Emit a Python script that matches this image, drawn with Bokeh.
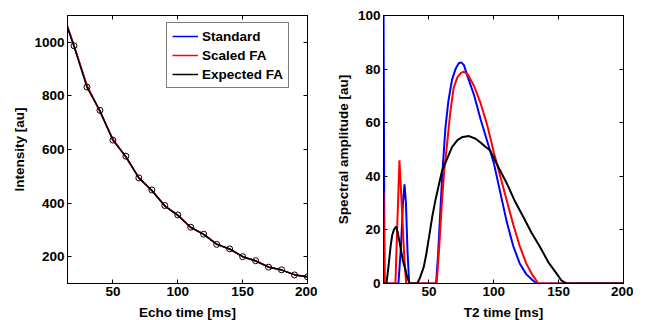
from bokeh.plotting import figure
from bokeh.layouts import row
from bokeh.models import (LinearAxis, FixedTicker, CustomJSTickFormatter,
                          Range1d, Legend, LegendItem)
from bokeh.embed import file_html
from bokeh.resources import INLINE

# ---------------- data: left panel (echo decay) ----------------
echo_measured = [20, 30, 40, 50, 60, 70, 80, 90, 100, 110, 120, 130, 140,
                 150, 160, 170, 180, 190, 200]
intensity_measured = [987, 833, 746, 635, 575, 494, 449, 391, 356, 310, 284,
                      246, 229, 200, 185, 161, 151, 132, 125]

echo_fit = [10, 20, 30, 40, 50, 60, 70, 80, 90, 100, 110, 120, 130, 140,
            150, 160, 170, 180, 190, 200]
fit_standard = [1128, 986, 838, 742, 637, 572, 495, 446, 390, 354, 310, 282,
                247, 229, 200, 184, 161, 150, 133, 125]
fit_scaled = [1130, 990, 840, 740, 640, 571, 493, 447, 388, 355, 309, 283,
              248, 227, 201, 184, 163, 150, 133, 124]
fit_expected = [1125, 985, 832, 745, 634, 574, 494, 448, 390, 355, 309, 284,
                246, 229, 200, 185, 161, 151, 132, 125]

left_xticks = [50, 100, 150, 200]
left_yticks = [200, 400, 600, 800, 1000]

# ---------------- data: right panel (T2 spectra) ----------------
t2_standard = [15, 15.8, 26.5, 28.5, 30, 31.2, 32.3, 33.5, 34.8, 55.5, 57,
               58.8, 60.5, 62.7, 65, 67.8, 70.5, 73, 75, 77, 80, 85, 90, 95,
               100, 105, 110, 115, 120, 125, 130, 133, 200]
amp_standard = [105, 0, 0, 14, 30, 37, 30, 12, 0, 0, 10, 27, 42, 58, 68, 76,
                80, 82.2, 82.5, 81.5, 77, 70, 61, 53, 45, 34, 23, 14, 7.5,
                3.5, 1.2, 0, 0]

t2_scaled = [15, 15.8, 24.2, 25.5, 27.3, 29, 31, 32.5, 56, 58, 60.1, 62, 64,
             66.5, 69.1, 72, 75, 77, 80, 85, 90, 95, 100, 105, 110, 115, 120,
             125, 130, 134.5, 200]
amp_scaled = [34, 0, 0, 20, 46, 30, 10, 0, 0, 14, 31, 43, 52, 64, 73, 77,
              78.7, 79, 78, 73.5, 67, 59, 49, 40, 31, 22, 14, 7.5, 3, 0, 0]

t2_expected = [15, 17.3, 19, 20.5, 21.7, 23, 24.7, 26, 28.1, 30, 32, 33.5,
               35.2, 41, 43, 46, 48, 50, 52.5, 55, 57.5, 60.1, 64, 67.8, 72,
               76, 81, 86, 90, 93.5, 97.3, 104, 110.2, 116, 122.9, 129, 135.8,
               142, 148.6, 152, 156.3, 200]
amp_expected = [0, 0, 7, 14, 18, 20, 21.3, 19, 13.5, 8.5, 4.9, 2, 0, 0, 2,
                6.1, 11, 17, 24.7, 31, 36.5, 42, 46.5, 50.9, 53.5, 54.7, 55,
                54, 52.5, 51, 49.6, 43, 37.2, 31, 24.7, 19, 13.5, 8, 3.6, 1.2,
                0, 0]

right_xticks = [50, 100, 150, 200]
right_yticks = [0, 20, 40, 60, 80, 100]

series_names = ["Standard", "Scaled FA", "Expected FA"]
series_colors = ["#0000ff", "#ff0000", "#000000"]

FONT = "Liberation Sans"
FSIZE = "13.5px"


def style_axis(ax, ticks, labels=True):
    ax.ticker = FixedTicker(ticks=ticks)
    ax.major_tick_in = 4
    ax.major_tick_out = 0
    ax.minor_tick_line_color = None
    ax.axis_line_color = "black"
    ax.major_tick_line_color = "black"
    ax.major_label_text_font = FONT
    ax.major_label_text_font_style = "bold"
    ax.major_label_text_font_size = FSIZE
    ax.major_label_text_color = "black"
    ax.axis_label_text_font = FONT
    ax.axis_label_text_font_style = "bold"
    ax.axis_label_text_font_size = FSIZE
    ax.axis_label_text_color = "black"
    if labels:
        ax.major_label_standoff = 3
    else:
        ax.formatter = CustomJSTickFormatter(code="return ''")
        ax.major_label_standoff = 0


def make_fig(xr, yr, left_border, xticks, yticks, xlabel, ylabel, ylab_stand):
    p = figure(output_backend="svg", toolbar_location=None,
               x_range=xr, y_range=yr,
               frame_width=240, frame_height=268,
               min_border_left=left_border, min_border_right=10,
               min_border_top=15, min_border_bottom=37,
               background_fill_color="white", border_fill_color="white")
    p.grid.visible = False
    p.outline_line_color = "black"
    style_axis(p.xaxis[0], xticks)
    style_axis(p.yaxis[0], yticks)
    p.xaxis[0].axis_label = xlabel
    p.yaxis[0].axis_label = ylabel
    p.xaxis[0].axis_label_standoff = 6
    p.yaxis[0].axis_label_standoff = ylab_stand
    top = LinearAxis()
    style_axis(top, xticks, labels=False)
    p.add_layout(top, "above")
    right = LinearAxis()
    style_axis(right, yticks, labels=False)
    p.add_layout(right, "right")
    return p


# ---------------- left figure ----------------
p1 = make_fig(Range1d(15, 200), Range1d(100, 1100), 67, left_xticks,
              left_yticks, "Echo time [ms]", "Intensity [au]", 4)

r_std = p1.line(echo_fit, fit_standard, line_color=series_colors[0], line_width=1.5)
r_sca = p1.line(echo_fit, fit_scaled, line_color=series_colors[1], line_width=1.5)
r_exp = p1.line(echo_fit, fit_expected, line_color=series_colors[2], line_width=1.5)
p1.scatter(echo_measured, intensity_measured, marker="circle", size=6,
           fill_color=None, line_color="black", line_width=1)

legend = Legend(items=[LegendItem(label=series_names[0], renderers=[r_std]),
                       LegendItem(label=series_names[1], renderers=[r_sca]),
                       LegendItem(label=series_names[2], renderers=[r_exp])],
                location=(99, 195))
legend.label_text_font = FONT
legend.label_text_font_style = "bold"
legend.label_text_font_size = FSIZE
legend.label_text_color = "black"
legend.border_line_color = "black"
legend.border_line_width = 1
legend.background_fill_color = "white"
legend.background_fill_alpha = 1
legend.padding = 5
legend.spacing = 3
legend.label_height = 16
legend.glyph_height = 16
legend.glyph_width = 26
legend.label_standoff = 4
legend.margin = 0
p1.add_layout(legend)

# ---------------- right figure ----------------
p2 = make_fig(Range1d(15, 200), Range1d(0, 100), 66, right_xticks,
              right_yticks, "T2 time [ms]", "Spectral amplitude [au]", 4)
p2.line(t2_standard, amp_standard, line_color=series_colors[0], line_width=2)
p2.line(t2_scaled, amp_scaled, line_color=series_colors[1], line_width=2)
p2.line(t2_expected, amp_expected, line_color=series_colors[2], line_width=2)

layout = row(p1, p2)
open("out.html", "w").write(file_html(layout, INLINE))
